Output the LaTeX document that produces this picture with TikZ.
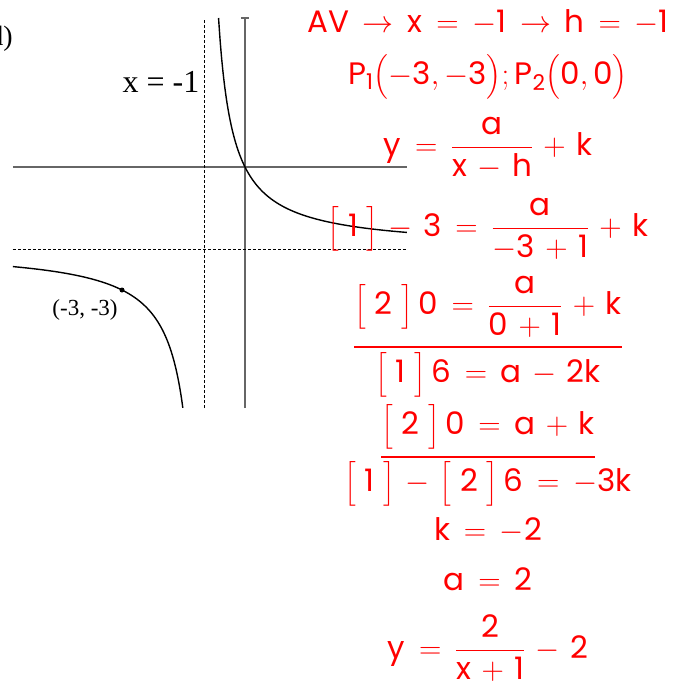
\RequirePackage{fix-cm}
\documentclass[tikz,border=0pt]{standalone}
\usepackage{amsmath}
\usepackage{fontspec}
\setmainfont{Poppins}
\newfontfamily\tnr{Liberation Serif}
\usepackage{tikz}

\thickmuskip=8mu plus 2mu
\medmuskip=6mu plus 2mu
\makeatletter
\newcommand{\brk}[1]{\mathopen{\bBigg@{1.25}[}\mskip5mu\text{#1}\mskip5mu\mathclose{\bBigg@{1.25}]}}
\newcommand{\pr}[1]{\mathopen{\bBigg@{1.3}(}#1\mathclose{\bBigg@{1.3})}}
\makeatother

\begin{document}
\begin{tikzpicture}[
    x=1pt, y=-1pt,
    hand/.style={text=red, inner sep=0pt, font=\fontsize{31}{40}\selectfont},
    lbl/.style={inner sep=0pt, font=\tnr\fontsize{23}{26}\selectfont},
    axis/.style={draw=black!60, line width=1.6pt},
    asym/.style={draw=black, line width=1pt, dash pattern=on 3pt off 2pt},
    curve/.style={draw=black, line width=1.4pt},
    rule/.style={draw=red, line width=1.4pt},
]
\useasboundingbox (0,0) rectangle (687,685);

% Graph
\begin{scope}[shift={(245,167)}, x=41pt, y=41pt]
  \draw[axis] (-5.66,0) -- (3.95,0);
  \draw[axis] (0,-5.88) -- (0,3.63);
  \draw[axis] (-0.1,3.63) -- (0.1,3.63);
  \draw[asym] (-1,-5.88) -- (-1,3.63);
  \draw[asym] (-5.66,-2) -- (3.95,-2);
  \draw[curve] plot[domain=-0.645:3.95, samples=120, smooth] (\x,{2/(\x+1)-2});
  \draw[curve] plot[domain=-5.66:-1.515, samples=120, smooth] (\x,{2/(\x+1)-2});
  \fill (-3,-3) circle (2.5pt);
\end{scope}

% Labels
\node[lbl, font=\tnr\fontsize{32}{36}\selectfont] (xlbl) at (161,82) {x = -1};
\node[lbl] (ptlbl) at (85,310) {(-3, -3)};
\node[lbl, anchor=east, font=\tnr\fontsize{28}{32}\selectfont] (part) at (13,39) {d)};

% Working
\node[hand] (av) at (488,22) {$\text{AV}\rightarrow\text{x}=-\text{1}\rightarrow\text{h}=-\text{1}$};
\node[hand] (pts) at (488,77) {$\text{P}_{\text{1}}\pr{-\text{3},-\text{3}};\text{P}_{\text{2}}\pr{\text{0},\text{0}}$};
\node[hand] (gen) at (488,148) {$\text{y}=\dfrac{\text{a}}{\text{x}-\text{h}}+\text{k}$};
\node[hand] (eq1) at (488,229) {$\brk{1}-\text{3}=\dfrac{\text{a}}{-\text{3}+\text{1}}+\text{k}$};
\node[hand] (eq2) at (488,307) {$\brk{2}\,\text{0}=\dfrac{\text{a}}{\text{0}+\text{1}}+\text{k}$};
\node[hand] (sum1) at (488,375) {$\brk{1}\,\text{6}=\text{a}-\text{2k}$};
\node[hand] (sum2) at (488,427) {$\brk{2}\,\text{0}=\text{a}+\text{k}$};
\node[hand] (diff) at (488,484) {$\brk{1}-\brk{2}\,\text{6}=-\text{3k}$};
\node[hand] (kval) at (488,530) {$\text{k}=-\text{2}$};
\node[hand] (aval) at (488,579) {$\text{a}=\text{2}$};
\node[hand] (final) at (488,648) {$\text{y}=\dfrac{\text{2}}{\text{x}+\text{1}}-\text{2}$};

% Rules
\coordinate (r1) at (0,347);
\coordinate (r2) at (0,457);
\draw[rule] (eq2.west |- r1) -- (eq2.east |- r1);
\draw[rule] (sum2.west |- r2) -- (sum2.east |- r2);
\end{tikzpicture}
\end{document}
